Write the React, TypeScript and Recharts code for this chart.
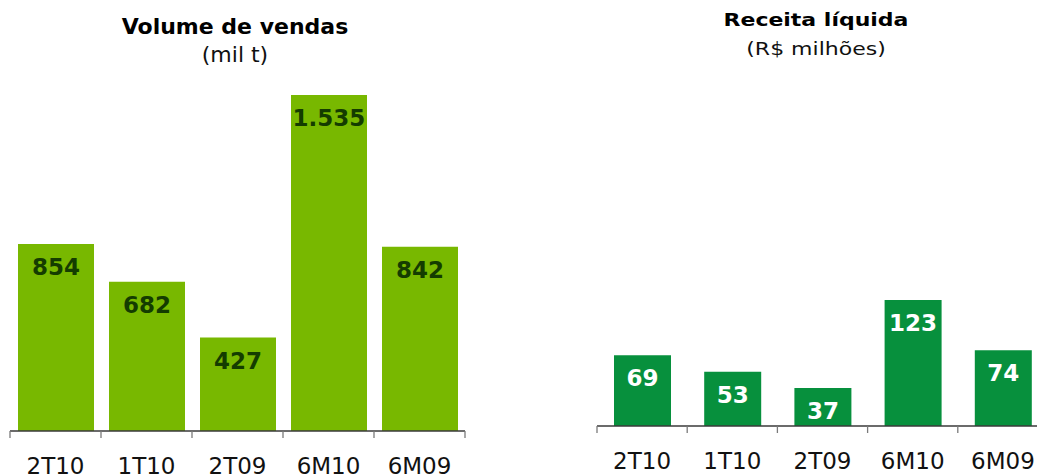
import React from "react"
import { Bar, BarChart, LabelList, XAxis, YAxis } from "recharts"

const categories = ["2T10", "1T10", "2T09", "6M10", "6M09"]
const salesVolume = [854, 682, 427, 1535, 842]
const netRevenue = [69, 53, 37, 123, 74]

const FONT = '"DejaVu Sans", Verdana, sans-serif'
const CHART_W = 480
const CHART_H = 475
const AXIS_H = 30

const volumeData = categories.map((label, i) => ({ label, value: salesVolume[i] }))
const revenueData = categories.map((label, i) => ({ label, value: netRevenue[i] }))

// pt-BR style thousands separator: 1535 -> "1.535"
function formatBR(v: number) {
  return String(v).replace(/\B(?=(\d{3})+(?!\d))/g, ".")
}

function BoundaryTick(props: any) {
  const { x, y, payload, index, visibleTicksCount, step } = props
  const isLast = index === visibleTicksCount - 1
  return (
    <g>
      <line x1={x - step / 2} x2={x - step / 2} y1={y} y2={y + 7} stroke="#7a7a7a" strokeWidth={1.3} />
      {isLast && <line x1={x + step / 2} x2={x + step / 2} y1={y} y2={y + 7} stroke="#7a7a7a" strokeWidth={1.3} />}
      <text x={x} y={y + 43} textAnchor="middle" fontSize={23} fontFamily={FONT} fill="#111">
        {payload.value}
      </text>
    </g>
  )
}

function ValueLabel(props: any) {
  const { x, y, width, value, color } = props
  return (
    <text
      x={Number(x) + Number(width) / 2}
      y={Number(y) + 31}
      textAnchor="middle"
      fontSize={23}
      fontWeight="bold"
      fontFamily={FONT}
      fill={color}
    >
      {formatBR(Number(value))}
    </text>
  )
}

interface PanelProps {
  data: { label: string; value: number }[]
  max: number
  color: string
  labelColor: string
  barSize: number
  margin: { top: number; right: number; bottom: number; left: number }
}

function Panel({ data, max, color, labelColor, barSize, margin }: PanelProps) {
  const step = (CHART_W - margin.left - margin.right) / data.length
  return (
    <BarChart width={CHART_W} height={CHART_H} data={data} margin={margin}>
      <XAxis
        dataKey="label"
        height={AXIS_H}
        axisLine={{ stroke: "#3a3a3a", strokeWidth: 1.3 }}
        tickLine={false}
        tickSize={0}
        tickMargin={0}
        interval={0}
        tick={(p: any) => <BoundaryTick {...p} step={step} />}
      />
      <YAxis hide domain={[0, max]} />
      <Bar dataKey="value" fill={color} barSize={barSize} isAnimationActive={false}>
        <LabelList dataKey="value" content={(p: any) => <ValueLabel {...p} color={labelColor} />} />
      </Bar>
    </BarChart>
  )
}

export default function App() {
  return (
    <div
      style={{
        position: "fixed",
        left: 0,
        top: 0,
        width: 1037,
        height: 475,
        overflow: "hidden",
        background: "#fff",
      }}
    >
      <div style={{ position: "absolute", left: 0, top: 0 }}>
        <Panel
          data={volumeData}
          max={1535}
          color="#78b800"
          labelColor="#143c00"
          barSize={76}
          margin={{ top: 95, right: 15, bottom: 14, left: 10 }}
        />
      </div>
      <div style={{ position: "absolute", left: 580, top: 0 }}>
        <Panel
          data={revenueData}
          max={323}
          color="#07903d"
          labelColor="#ffffff"
          barSize={57}
          margin={{ top: 95, right: 12, bottom: 19, left: 17 }}
        />
      </div>
      <svg width={1037} height={475} style={{ position: "absolute", left: 0, top: 0, pointerEvents: "none" }}>
        <text x={235} y={34} textAnchor="middle" fontSize={22} fontWeight="bold" fontFamily={FONT} fill="#000">
          Volume de vendas
        </text>
        <text x={235} y={62} textAnchor="middle" fontSize={22} fontFamily={FONT} fill="#111">
          (mil t)
        </text>
        <g transform="translate(816 0) scale(1 0.78)">
          <text x={0} y={33} textAnchor="middle" fontSize={22} fontWeight="bold" fontFamily={FONT} fill="#000">
            Receita líquida
          </text>
          <text x={0} y={70} textAnchor="middle" fontSize={22} fontFamily={FONT} fill="#111">
            (R$ milhões)
          </text>
        </g>
      </svg>
    </div>
  )
}
